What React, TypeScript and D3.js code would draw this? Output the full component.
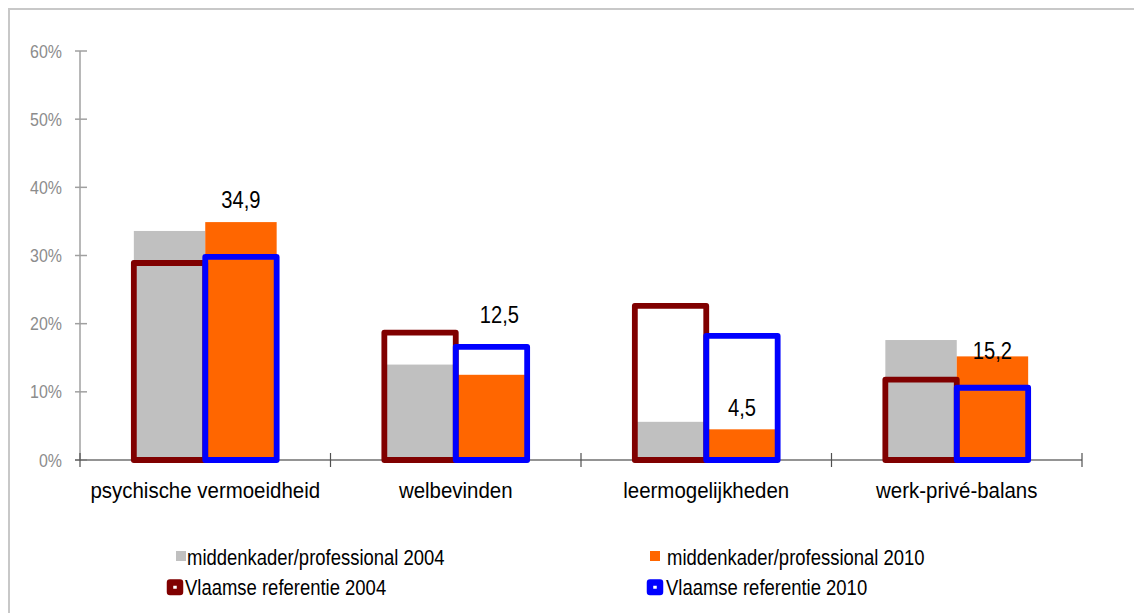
import { useEffect, useRef } from "react"
import * as d3 from "d3"

// categories and values (in %)
const categories = ["psychische vermoeidheid", "welbevinden", "leermogelijkheden", "werk-privé-balans"]
const middenkader2004 = [33.6, 14.0, 5.6, 17.6]
const middenkader2010 = [34.9, 12.5, 4.5, 15.2]
const vlaamse2004 = [28.9, 18.7, 22.6, 11.8]
const vlaamse2010 = [29.8, 16.6, 18.2, 10.6]
const yTicks = [0, 10, 20, 30, 40, 50, 60]

const FONT = "'Liberation Sans', Arial, sans-serif"
// the original uses a narrow Arial, no narrow font here so squeeze it a bit
const squeeze = (x: number, y: number, k = 0.84) => `translate(${x},${y}) scale(${k},1)`

const App = () => {
  const svgRef = useRef<SVGSVGElement>(null)

  useEffect(() => {
    const svg = d3.select(svgRef.current)
    svg.selectAll("*").remove()

    const left = 80, right = 1082, top = 51, bottom = 460

    const y = d3.scaleLinear().domain([0, 60]).range([bottom, top])
    const x = d3.scaleBand().domain(categories).range([left, right]).padding(0)
    const inner = d3.scaleBand<number>().domain([0, 1]).range([0, x.bandwidth()])
      .paddingInner(0).paddingOuter(0.754)

    //outer frame of the chart area
    svg.append("path")
      .attr("d", "M9,640 L9,9 L1140,9")
      .attr("fill", "none")
      .attr("stroke", "#c8c8c8")
      .attr("stroke-width", 2)

    //filled bars (2004 grey, 2010 orange)
    const fills = [
      { values: middenkader2004, color: "#c0c0c0", slot: 0 },
      { values: middenkader2010, color: "#ff6600", slot: 1 },
    ]
    fills.forEach(s => {
      svg.append("g").selectAll("rect")
        .data(s.values)
        .join("rect")
        .attr("x", (d, i) => x(categories[i])! + inner(s.slot)!)
        .attr("y", d => y(d))
        .attr("width", inner.bandwidth())
        .attr("height", d => y(0) - y(d))
        .attr("fill", s.color)
    })

    //y axis
    const yAxis = svg.append("g")
    yAxis.append("line")
      .attr("x1", left).attr("x2", left)
      .attr("y1", y(60)).attr("y2", y(0))
      .attr("stroke", "#a0a0a0").attr("stroke-width", 1.5)
    yAxis.selectAll("line.tick")
      .data(yTicks)
      .join("line")
      .attr("class", "tick")
      .attr("x1", left - 5).attr("x2", left + 7)
      .attr("y1", d => y(d)).attr("y2", d => y(d))
      .attr("stroke", "#a0a0a0").attr("stroke-width", 1.5)
    yAxis.selectAll("text")
      .data(yTicks)
      .join("text")
      .attr("transform", d => squeeze(62, y(d)))
      .attr("dy", "0.35em")
      .attr("text-anchor", "end")
      .attr("font-family", FONT)
      .attr("font-size", 19)
      .attr("fill", "#8c8c8c")
      .text(d => d + "%")

    //x axis
    const xAxis = svg.append("g")
    xAxis.append("line")
      .attr("x1", left - 5).attr("x2", right)
      .attr("y1", bottom).attr("y2", bottom)
      .attr("stroke", "#707070").attr("stroke-width", 1.5)
    const bounds = categories.map(c => x(c)!).concat([right])
    xAxis.selectAll("line.tick")
      .data(bounds)
      .join("line")
      .attr("class", "tick")
      .attr("x1", d => d).attr("x2", d => d)
      .attr("y1", bottom - 7).attr("y2", bottom + 7)
      .attr("stroke", "#505050").attr("stroke-width", 1.2)
    xAxis.selectAll("text")
      .data(categories)
      .join("text")
      .attr("transform", d => squeeze(x(d)! + x.bandwidth() / 2, 498, 0.93))
      .attr("text-anchor", "middle")
      .attr("font-family", FONT)
      .attr("font-size", 22)
      .attr("fill", "#000")
      .text(d => d)

    //outline bars (Vlaamse referentie)
    const outlines = [
      { values: vlaamse2004, color: "#800000", slot: 0 },
      { values: vlaamse2010, color: "#0000ff", slot: 1 },
    ]
    outlines.forEach(s => {
      svg.append("g").selectAll("rect")
        .data(s.values)
        .join("rect")
        .attr("x", (d, i) => x(categories[i])! + inner(s.slot)!)
        .attr("y", d => y(d))
        .attr("width", inner.bandwidth())
        .attr("height", d => y(0) - y(d))
        .attr("fill", "none")
        .attr("stroke", s.color)
        .attr("stroke-width", 5.8)
        .attr("stroke-linejoin", "round")
    })

    //value labels on the 2010 bars, nudged like in the original
    const labelNudge = [-14, -52, -13, 3]
    const labelShift = [0, 8, 0, 0]
    svg.append("g").selectAll("text")
      .data(middenkader2010)
      .join("text")
      .attr("transform", (d, i) => squeeze(
        x(categories[i])! + inner(1)! + inner.bandwidth() / 2 + labelShift[i],
        y(d) + labelNudge[i]))
      .attr("text-anchor", "middle")
      .attr("font-family", FONT)
      .attr("font-size", 24)
      .attr("fill", "#000")
      .text(d => d3.format(".1f")(d).replace(".", ","))

    //legend
    const legend = svg.append("g").attr("font-family", FONT).attr("font-size", 22)
    const fillItems = [
      { label: "middenkader/professional 2004", color: "#c0c0c0", sx: 176, tx: 187 },
      { label: "middenkader/professional 2010", color: "#ff6600", sx: 650, tx: 667 },
    ]
    fillItems.forEach(it => {
      legend.append("rect")
        .attr("x", it.sx).attr("y", 551)
        .attr("width", 10).attr("height", 10)
        .attr("fill", it.color)
      legend.append("text")
        .attr("transform", squeeze(it.tx, 565))
        .text(it.label)
    })
    const lineItems = [
      { label: "Vlaamse referentie 2004", color: "#800000", sx: 170, tx: 185 },
      { label: "Vlaamse referentie 2010", color: "#0000ff", sx: 650, tx: 666 },
    ]
    lineItems.forEach(it => {
      legend.append("rect")
        .attr("x", it.sx).attr("y", 582.5)
        .attr("width", 10).attr("height", 9.5)
        .attr("fill", "#fff")
        .attr("stroke", it.color)
        .attr("stroke-width", 6.5)
        .attr("stroke-linejoin", "round")
      legend.append("text")
        .attr("transform", squeeze(it.tx, 595))
        .text(it.label)
    })
  }, [])

  return (
    <svg
      ref={svgRef}
      width={1134}
      height={613}
      style={{ position: "absolute", left: 0, top: 0, background: "#fff" }}
    />
  )
}

export default App
